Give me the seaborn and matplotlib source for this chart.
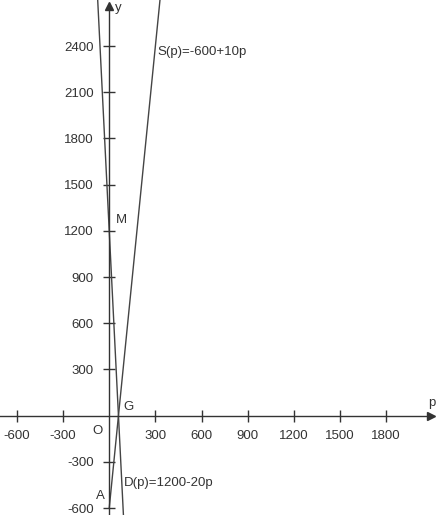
import numpy as np
import seaborn as sns
import pandas as pd
import matplotlib.pyplot as plt

sns.set_style("white")
plt.rcParams["font.family"] = ["Liberation Sans", "DejaVu Sans"]

# line endpoints: S(p)=-600+10p, D(p)=1200-20p
s_price = [0, 340]
s_value = [-600, 2800]
d_price = [-80, 100]
d_value = [2800, -800]

x_ticks = [-600, -300, 300, 600, 900, 1200, 1500, 1800]
y_ticks = [-600, -300, 300, 600, 900, 1200, 1500, 1800, 2100, 2400]

# labelled points
point_names = ["O", "G", "M", "A"]
point_x = [0, 60, 0, 0]
point_y = [0, 0, 1200, -600]

lines = pd.concat([
    pd.DataFrame({"p": s_price, "y": s_value, "curve": "S"}),
    pd.DataFrame({"p": d_price, "y": d_value, "curve": "D"}),
])

fig = plt.figure(figsize=(4.38, 5.15), dpi=100)
ax = fig.add_axes([0, 0, 1, 1])

sns.lineplot(data=lines, x="p", y="y", hue="curve", units="curve",
             estimator=None, sort=False, palette=["#444444", "#444444"],
             linewidth=1.0, legend=False, ax=ax)

ax.set_xlim(-710, 2137)
ax.set_ylim(-645, 2699)

for side in ["top", "right"]:
    ax.spines[side].set_visible(False)
ax.spines["left"].set_position(("data", 0))
ax.spines["bottom"].set_position(("data", 0))
ax.spines["bottom"].set_bounds(-710, 2090)
ax.spines["left"].set_bounds(-645, 2660)
for side in ["left", "bottom"]:
    ax.spines[side].set_color("#333333")
    ax.spines[side].set_linewidth(1.0)

# arrow heads
ax.plot(2090, 0, marker=">", color="#333333", markersize=6, clip_on=False)
ax.plot(0, 2660, marker="^", color="#333333", markersize=6, clip_on=False)

ax.set_xticks(x_ticks)
ax.set_yticks(y_ticks)
ax.set_xticklabels([str(v) for v in x_ticks])
ax.set_yticklabels([str(v) for v in y_ticks])
ax.tick_params(axis="both", direction="inout", length=8, width=1.0,
               color="#333333", labelsize=9.5, labelcolor="#333333", pad=6,
               bottom=True, left=True)
ax.tick_params(axis="y", pad=7)
ax.set_xlabel("")
ax.set_ylabel("")

ax.text(2070, 45, "p", fontsize=9.5, color="#333333", ha="left", va="bottom")
ax.text(40, 2650, "y", fontsize=9.5, color="#333333", ha="left", va="center")

offsets = {"O": (-40, -60, "right", "top"), "G": (30, 20, "left", "bottom"),
           "M": (40, 30, "left", "bottom"), "A": (-30, 40, "right", "bottom")}
for name, px, py in zip(point_names, point_x, point_y):
    dx, dy, ha, va = offsets[name]
    ax.text(px + dx, py + dy, name, fontsize=9.5, color="#333333", ha=ha, va=va)

ax.text(315, 2360, "S(p)=-600+10p", fontsize=9.5, color="#333333", va="center")
ax.text(95, -440, "D(p)=1200-20p", fontsize=9.5, color="#333333", va="center")

fig.savefig("out.png", dpi=100)
